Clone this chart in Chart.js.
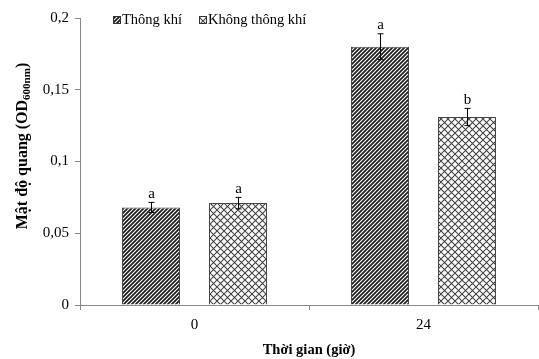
<!DOCTYPE html>
<html>
<head>
<meta charset="utf-8">
<script src="https://cdn.jsdelivr.net/npm/chart.js@4.4.1/dist/chart.umd.min.js"></script>
<style>
  html, body { margin: 0; padding: 0; background: #fff; }
  #wrap { width: 539px; height: 359px; }
</style>
</head>
<body>
<div id="wrap"><canvas id="c" width="539" height="359"></canvas></div>
<script>
// Categories (hours) and series
const categories = ['0', '24'];
const seriesNames = ['Thông khí', 'Không thông khí'];
const aerated = [0.068, 0.180];
const notAerated = [0.071, 0.131];
const aeratedErr = [0.0035, 0.009];
const notAeratedErr = [0.004, 0.006];
const aeratedLetters = ['a', 'a'];
const notAeratedLetters = ['a', 'b'];
const yTicks = [0, 0.05, 0.1, 0.15, 0.2];

const SERIF = '"Liberation Serif", "Times New Roman", serif';

function diagonalPattern() {
  const t = document.createElement('canvas');
  t.width = 4; t.height = 4;
  const g = t.getContext('2d');
  g.fillStyle = '#fff';
  g.fillRect(0, 0, 4, 4);
  g.strokeStyle = '#1a1a1a';
  g.lineWidth = 1.7;
  g.beginPath();
  g.moveTo(-1, 5); g.lineTo(5, -1);
  g.moveTo(-1, 1); g.lineTo(1, -1);
  g.moveTo(3, 5); g.lineTo(5, 3);
  g.stroke();
  return g.createPattern(t, 'repeat');
}

function crossPattern() {
  const n = 7;
  const t = document.createElement('canvas');
  t.width = n; t.height = n;
  const g = t.getContext('2d');
  g.fillStyle = '#fff';
  g.fillRect(0, 0, n, n);
  g.strokeStyle = '#444';
  g.lineWidth = 1.1;
  g.beginPath();
  g.moveTo(0, 0); g.lineTo(n, n);
  g.moveTo(0, n); g.lineTo(n, 0);
  g.stroke();
  return g.createPattern(t, 'repeat');
}

const fmt = v => String(v).replace('.', ',');

// Error bars with significance letters
const errorBars = {
  id: 'errorBars',
  afterDatasetsDraw(chart) {
    const ctx = chart.ctx;
    const y = chart.scales.y;
    const errs = [aeratedErr, notAeratedErr];
    const letters = [aeratedLetters, notAeratedLetters];
    ctx.save();
    ctx.strokeStyle = '#000';
    ctx.lineWidth = 1;
    ctx.fillStyle = '#000';
    ctx.font = '15px ' + SERIF;
    ctx.textAlign = 'center';
    ctx.textBaseline = 'bottom';
    chart.data.datasets.forEach((ds, di) => {
      const meta = chart.getDatasetMeta(di);
      meta.data.forEach((bar, i) => {
        const v = ds.data[i];
        const e = errs[di][i];
        const x = Math.round(bar.x) + 0.5;
        const yt = y.getPixelForValue(v + e);
        const yb = y.getPixelForValue(v - e);
        ctx.beginPath();
        ctx.moveTo(x, yt); ctx.lineTo(x, yb);
        ctx.moveTo(x - 3, yt); ctx.lineTo(x + 3, yt);
        ctx.moveTo(x - 3, yb); ctx.lineTo(x + 3, yb);
        ctx.stroke();
        ctx.fillText(letters[di][i], x, yt - 1);
      });
    });
    ctx.restore();
  }
};

// Legend and y-axis title (with subscript)
const decorations = {
  id: 'decorations',
  afterDraw(chart) {
    const ctx = chart.ctx;
    const ds = chart.data.datasets;
    ctx.save();
    // legend
    const items = [{x: 113, label: seriesNames[0], fill: ds[0].backgroundColor},
                   {x: 199, label: seriesNames[1], fill: ds[1].backgroundColor}];
    ctx.font = '14.5px ' + SERIF;
    ctx.textBaseline = 'middle';
    ctx.textAlign = 'left';
    items.forEach(it => {
      ctx.fillStyle = it.fill;
      ctx.fillRect(it.x, 16, 8, 8);
      ctx.strokeStyle = '#333';
      ctx.lineWidth = 1;
      ctx.strokeRect(it.x + 0.5, 16.5, 7, 7);
      ctx.fillStyle = '#000';
      ctx.fillText(it.label, it.x + 9, 20.5);
    });
    // y-axis title
    ctx.translate(22, 146);
    ctx.rotate(-Math.PI / 2);
    const main = 'Mật độ quang (OD';
    const sub = '600nm';
    const end = ')';
    const fMain = 'bold 16px ' + SERIF;
    const fSub = 'bold 11px ' + SERIF;
    ctx.font = fMain; const w1 = ctx.measureText(main).width; const w3 = ctx.measureText(end).width;
    ctx.font = fSub; const w2 = ctx.measureText(sub).width;
    let x0 = -(w1 + w2 + w3) / 2;
    ctx.textAlign = 'left';
    ctx.textBaseline = 'alphabetic';
    ctx.fillStyle = '#000';
    ctx.font = fMain; ctx.fillText(main, x0, 5);
    ctx.font = fSub; ctx.fillText(sub, x0 + w1, 8);
    ctx.font = fMain; ctx.fillText(end, x0 + w1 + w2, 5);
    ctx.restore();
  }
};

const ctx = document.getElementById('c').getContext('2d');
new Chart(ctx, {
  type: 'bar',
  data: {
    labels: categories,
    datasets: [
      { label: seriesNames[0], data: aerated, backgroundColor: diagonalPattern(),
        borderColor: '#444', borderWidth: 1, barPercentage: 0.667, categoryPercentage: 0.76 },
      { label: seriesNames[1], data: notAerated, backgroundColor: crossPattern(),
        borderColor: '#444', borderWidth: 1, barPercentage: 0.667, categoryPercentage: 0.76 }
    ]
  },
  options: {
    responsive: false,
    animation: false,
    devicePixelRatio: 1,
    layout: { padding: { left: 0, right: 1, top: 18, bottom: 0 } },
    plugins: { legend: { display: false }, tooltip: { enabled: false } },
    scales: {
      x: {
        offset: true,
        grid: { offset: true, drawOnChartArea: false, drawTicks: true, tickLength: 5, color: '#888' },
        border: { color: '#888', width: 1 },
        ticks: { color: '#000', font: { family: SERIF, size: 15 }, padding: 6 },
        title: { display: true, text: 'Thời gian (giờ)', color: '#000',
                 font: { family: SERIF, size: 14.5, weight: 'bold' }, padding: { top: 5, bottom: 0 } },
        afterFit(s) { s.height = 54; }
      },
      y: {
        min: 0, max: 0.2,
        afterBuildTicks(s) { s.ticks = yTicks.map(v => ({ value: v })); },
        grid: { drawOnChartArea: false, drawTicks: true, tickLength: 5, color: '#888' },
        border: { color: '#888', width: 1 },
        ticks: { color: '#000', font: { family: SERIF, size: 15 }, padding: 6,
                 callback: v => fmt(v) },
        afterFit(s) { s.width = 80; }
      }
    }
  },
  plugins: [errorBars, decorations]
});
</script>
</body>
</html>
